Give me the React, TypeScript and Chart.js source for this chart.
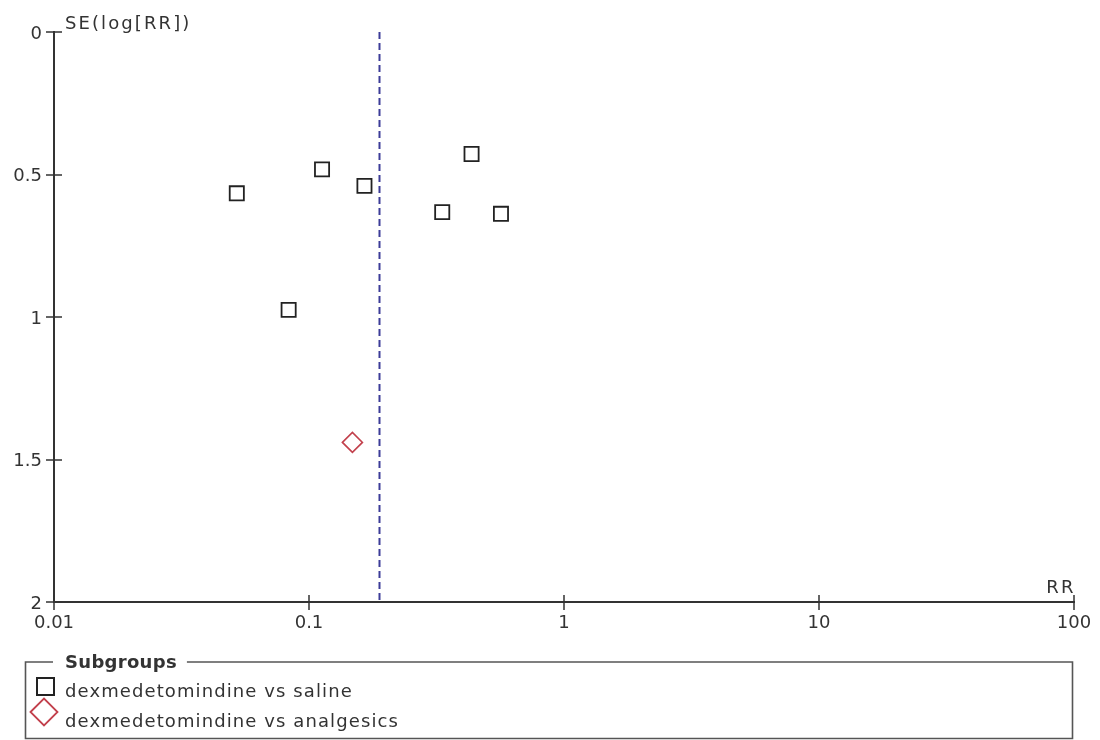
import { useEffect, useRef } from 'react';
import { Chart, registerables } from 'chart.js';

Chart.register(...registerables);

// Study estimates: risk ratio and standard error of log(RR)
const salineRR = [0.0521, 0.0832, 0.1125, 0.165, 0.333, 0.434, 0.566];
const salineSE = [0.566, 0.975, 0.482, 0.54, 0.632, 0.428, 0.638];
const analgesicsRR = [0.148];
const analgesicsSE = [1.44];

// Pooled estimate drawn as the vertical reference line
const pooledRR = 0.189;
const seRange = [0, 2];

const rrTicks = [0.01, 0.1, 1, 10, 100];
const seTicks = [0, 0.5, 1, 1.5, 2];

const groupLabels = ['dexmedetomindine vs saline', 'dexmedetomindine vs analgesics'];
const legendTitle = 'Subgroups';
const xTitle = 'RR';
const yTitle = 'SE(log[RR])';

const FONT = "'DejaVu Sans', 'Liberation Sans', sans-serif";
const INK = '#333';
const SQUARE_COLOR = '#222';
const DIAMOND_COLOR = '#c2404c';
const POOLED_COLOR = '#3c3c98';

// Tick marks crossing the axes, axis titles and the boxed subgroup legend
const funnelDecor = {
  id: 'funnelDecor',
  afterDraw(chart: any) {
    const { ctx, chartArea, scales } = chart;
    const xs = scales.x;
    const ys = scales.y;
    ctx.save();

    ctx.strokeStyle = INK;
    ctx.lineWidth = 1.5;
    ctx.beginPath();
    for (const t of ys.ticks) {
      const py = Math.round(ys.getPixelForValue(t.value));
      ctx.moveTo(chartArea.left - 8, py);
      ctx.lineTo(chartArea.left + 8, py);
    }
    for (const t of xs.ticks) {
      const px = Math.round(xs.getPixelForValue(t.value));
      ctx.moveTo(px, chartArea.bottom - 7);
      ctx.lineTo(px, chartArea.bottom + 8);
    }
    ctx.stroke();

    ctx.fillStyle = INK;
    ctx.font = `18px ${FONT}`;
    ctx.textBaseline = 'alphabetic';
    (ctx as any).letterSpacing = '2.1px';
    ctx.textAlign = 'left';
    ctx.fillText(yTitle, chartArea.left + 11, chartArea.top - 3);
    ctx.textAlign = 'right';
    ctx.fillText(xTitle, chartArea.right + 1.5, chartArea.bottom - 9);

    // Legend frame with title set into the top border
    const boxL = 25.5;
    const boxR = 1072.5;
    const boxT = 662;
    const boxB = 738.5;
    const titleX = 65;
    ctx.font = `bold 18px ${FONT}`;
    (ctx as any).letterSpacing = '0.3px';
    ctx.textAlign = 'left';
    const titleW = ctx.measureText(legendTitle).width;
    ctx.fillText(legendTitle, titleX, boxT + 6);

    ctx.strokeStyle = '#555';
    ctx.lineWidth = 1.6;
    ctx.beginPath();
    ctx.moveTo(titleX - 12, boxT);
    ctx.lineTo(boxL, boxT);
    ctx.lineTo(boxL, boxB);
    ctx.lineTo(boxR, boxB);
    ctx.lineTo(boxR, boxT);
    ctx.lineTo(titleX + titleW + 10, boxT);
    ctx.stroke();

    const ds = chart.data.datasets;
    ctx.font = `18px ${FONT}`;
    (ctx as any).letterSpacing = '1.1px';

    // square marker entry
    ctx.strokeStyle = ds[0].borderColor;
    ctx.lineWidth = 2;
    ctx.strokeRect(37, 678, 17, 17);
    ctx.fillStyle = INK;
    ctx.fillText(ds[0].label, titleX, 697);

    // diamond marker entry
    const cx = 44;
    const cy = 712;
    const h = 13.5;
    ctx.strokeStyle = ds[1].borderColor;
    ctx.lineWidth = 1.8;
    ctx.beginPath();
    ctx.moveTo(cx - h, cy);
    ctx.lineTo(cx, cy - h);
    ctx.lineTo(cx + h, cy);
    ctx.lineTo(cx, cy + h);
    ctx.closePath();
    ctx.stroke();
    ctx.fillText(ds[1].label, titleX, 727);

    ctx.restore();
  },
};

export default function App() {
  const canvasRef = useRef<HTMLCanvasElement | null>(null);

  useEffect(() => {
    const canvas = canvasRef.current;
    if (!canvas) return;

    const chart = new Chart(canvas, {
      type: 'scatter',
      data: {
        datasets: [
          {
            label: groupLabels[0],
            data: salineRR.map((rr, i) => ({ x: rr, y: salineSE[i] })),
            pointStyle: 'rect',
            pointRadius: 10,
            pointHoverRadius: 10,
            borderColor: SQUARE_COLOR,
            backgroundColor: 'rgba(0,0,0,0)',
            borderWidth: 1.8,
          },
          {
            label: groupLabels[1],
            data: analgesicsRR.map((rr, i) => ({ x: rr, y: analgesicsSE[i] })),
            pointStyle: 'rectRot',
            pointRadius: 10,
            pointHoverRadius: 10,
            borderColor: DIAMOND_COLOR,
            backgroundColor: 'rgba(0,0,0,0)',
            borderWidth: 1.6,
          },
          {
            label: 'pooled',
            data: seRange.map((se) => ({ x: pooledRR, y: se })),
            showLine: true,
            pointRadius: 0,
            borderColor: POOLED_COLOR,
            borderWidth: 2,
            borderDash: [7, 4],
          },
        ],
      },
      options: {
        responsive: false,
        animation: false,
        events: [],
        layout: { padding: { top: 32, right: 26, left: 0, bottom: 0 } },
        plugins: {
          legend: { display: false },
          tooltip: { enabled: false },
        },
        scales: {
          x: {
            type: 'logarithmic',
            position: 'bottom',
            min: rrTicks[0],
            max: rrTicks[rrTicks.length - 1],
            grid: { display: false, drawTicks: false },
            border: { display: true, color: INK, width: 2 },
            afterBuildTicks: (scale: any) => {
              scale.ticks = rrTicks.map((v) => ({ value: v }));
            },
            afterFit: (scale: any) => {
              scale.height = 138;
              scale.paddingLeft = 0;
              scale.paddingRight = 0;
            },
            ticks: {
              autoSkip: false,
              maxRotation: 0,
              padding: 11,
              color: INK,
              font: { family: FONT, size: 18 },
              callback: (v: any) => String(v),
            },
          },
          y: {
            type: 'linear',
            position: 'left',
            reverse: true,
            min: seRange[0],
            max: seRange[1],
            grid: { display: false, drawTicks: false },
            border: { display: true, color: INK, width: 2 },
            afterBuildTicks: (scale: any) => {
              scale.ticks = seTicks.map((v) => ({ value: v }));
            },
            afterFit: (scale: any) => {
              scale.width = 54;
              scale.paddingTop = 0;
              scale.paddingBottom = 0;
            },
            ticks: {
              padding: 12,
              labelOffset: 2,
              color: INK,
              font: { family: FONT, size: 18 },
              callback: (v: any) => String(v),
            },
          },
        },
      },
      plugins: [funnelDecor],
    });

    return () => chart.destroy();
  }, []);

  return (
    <div style={{ position: 'absolute', left: 0, top: 0, width: 1100, height: 740, background: '#fff' }}>
      <canvas ref={canvasRef} width={1100} height={740} style={{ display: 'block' }} />
    </div>
  );
}
